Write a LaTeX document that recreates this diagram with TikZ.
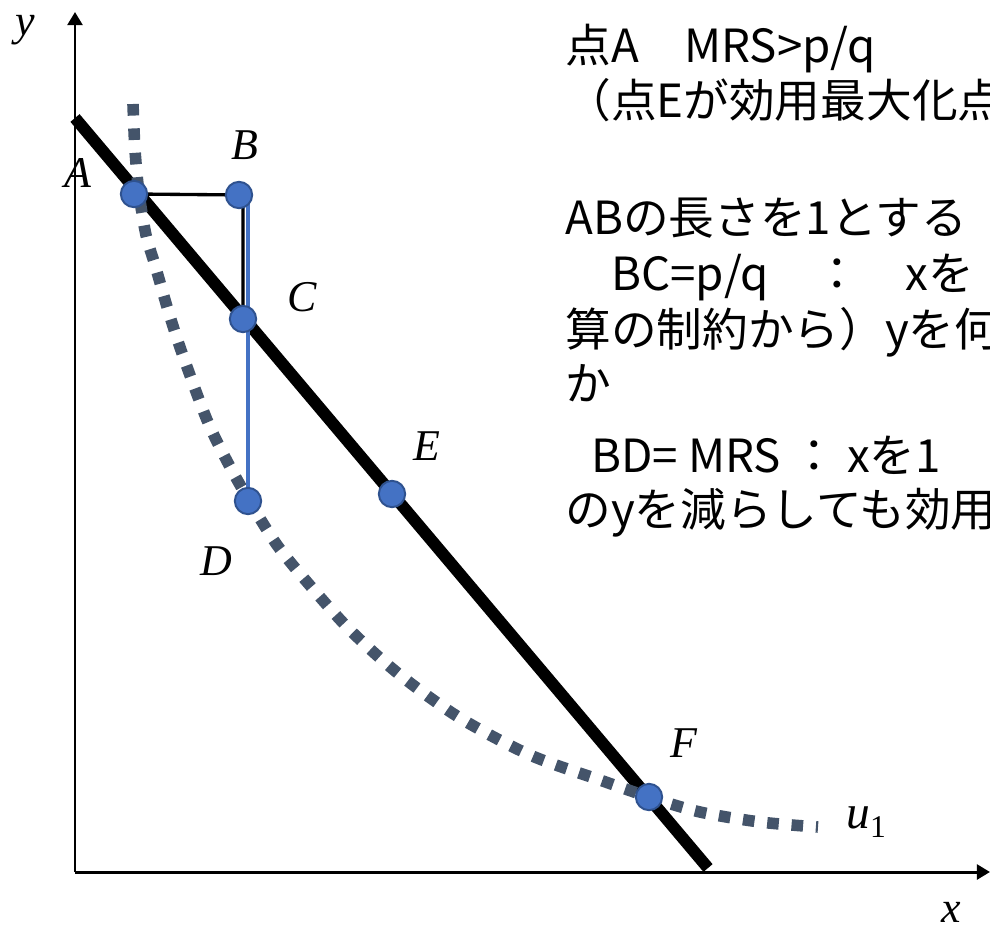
\documentclass[tikz,border=0pt]{standalone}
\usepackage{fontspec}
\setmainfont{Liberation Serif}
\newfontfamily\jpfont{Noto Sans CJK JP}
\usetikzlibrary{arrows.meta,backgrounds}
\definecolor{dotblue}{HTML}{4472C4}
\definecolor{dotedge}{HTML}{2F528F}
\definecolor{curvegray}{HTML}{44546A}
\newcommand{\lblfont}{\fontsize{25}{25}\selectfont\itshape}
\newcommand{\jtext}{\jpfont\fontsize{26}{26}\selectfont}

\begin{document}
\begin{tikzpicture}[
  x=0.02cm, y=-0.02cm,
  every node/.style={inner sep=0pt},
  pt/.style={circle, fill=dotblue, draw=dotedge, line width=1.1pt, minimum size=15pt},
  lab/.style={font=\lblfont, anchor=base},
  note/.style={font=\jtext, anchor=base west},
  axis/.style={line width=1.7pt, -{Triangle[length=7.5pt, width=8.5pt]}},
  budget/.style={line width=6.8pt},
  icurve/.style={curvegray, line width=6.6pt, dash pattern=on 6.6pt off 7.3pt},
  guide/.style={line width=1.9pt},
]
  \useasboundingbox (0,0) rectangle (990,929);
  \clip (0,0) rectangle (990,929);

  \coordinate (O) at (75,872);
  \coordinate (ytip) at (75,12);
  \coordinate (xtip) at (990,872);
  \coordinate (bl) at (75,118);
  \coordinate (br) at (708,868);

  \node[pt] (A) at (134,194) {};
  \node[pt] (B) at (239,195) {};
  \node[pt] (C) at (243,319) {};
  \node[pt] (D) at (248,501) {};
  \node[pt] (E) at (392,494) {};
  \node[pt] (F) at (649,797) {};

  \begin{scope}[on background layer]
    \draw[axis] (O) -- (ytip);
    \draw[axis] (O) -- (xtip);
    \draw[budget] (bl) -- (br);
    \draw[icurve] plot[smooth] coordinates {(133,104) (135,150) (139,193) (146,235)
      (155,265) (168,310) (182,353) (207,420) (228,463) (250,502) (277,545)
      (307,582) (350,630) (400,675) (460,718) (530,755) (600,780) (649,797)
      (700,812) (760,822) (818,827)};
    \draw[guide] (A) -- (B -| C) -- (C);
    \draw[guide, dotblue] (B -| D) -- (D);
  \end{scope}

  \node[lab] (lA) at (78,188) {A};
  \node[lab] (lB) at (245,160) {B};
  \node[lab] (lC) at (302,311) {C};
  \node[lab] (lD) at (216,575) {D};
  \node[lab] (lE) at (427,460) {E};
  \node[lab] (lF) at (684,757) {F};
  \node[lab] (ly) at (25,36) {y};
  \node[lab] (lx) at (951,922) {x};
  \node[lab, anchor=base west, font=\fontsize{27}{27}\selectfont\itshape] (lu) at (846,828)
    {u\raisebox{-5.5pt}{\upshape\fontsize{18}{18}\selectfont 1}};

  \node[note] (t1) at (565,63) {点A　MRS>p/q};
  \node[note] (t2) at (565,118) {（点Eが効用最大化点};
  \node[note] (t3) at (565,235) {ABの長さを1とする};
  \node[note] (t4) at (611,290) {BC=p/q　：　xを};
  \node[note] (t5) at (565,346) {算の制約から）yを何};
  \node[note] (t6) at (565,400) {か};
  \node[note] (t7) at (591,472) {BD= MRS ： xを1};
  \node[note] (t8) at (565,526) {のyを減らしても効用};
\end{tikzpicture}
\end{document}
